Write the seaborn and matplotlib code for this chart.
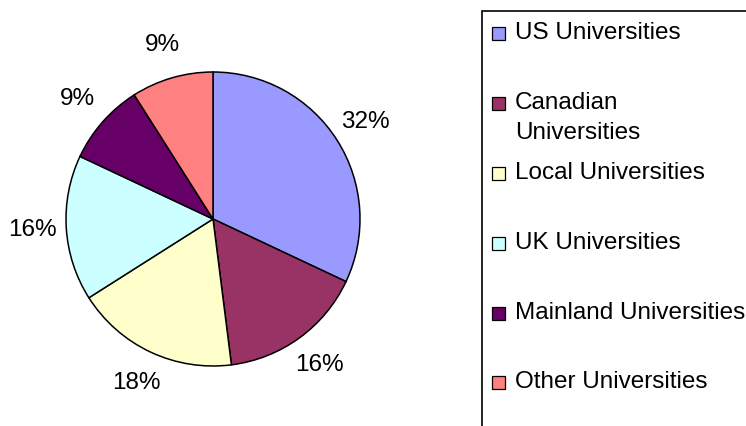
import matplotlib.pyplot as plt
import seaborn as sns
from matplotlib.patches import Rectangle

# data
categories = [
    "US Universities",
    "Canadian\nUniversities",
    "Local Universities",
    "UK Universities",
    "Mainland Universities",
    "Other Universities",
]
shares = [32, 16, 18, 16, 9, 9]
colors = ["#9999FF", "#993366", "#FFFFCC", "#CCFFFF", "#660066", "#FF8080"]

sns.set_theme(style="white")
plt.rcParams["font.family"] = ["Liberation Sans", "DejaVu Sans"]

W, H = 746, 426
fig = plt.figure(figsize=(W / 100, H / 100), dpi=100)

# pie axes: center (213, 219) px, radius 147 px, limits +-1.4
r_px = 147
cx, cy = 213, 219
side = 2.8 * r_px
ax = fig.add_axes([(cx - side / 2) / W, (H - cy - side / 2) / H, side / W, side / H])
palette = sns.color_palette(colors)
ax.pie(
    shares,
    colors=palette,
    startangle=90,
    counterclock=False,
    autopct="%.0f%%",
    pctdistance=1.23,
    wedgeprops=dict(edgecolor="black", linewidth=1.1),
    textprops=dict(fontsize=17.5, color="black"),
)
ax.set_xlim(-1.4, 1.4)
ax.set_ylim(-1.4, 1.4)
ax.set_aspect("equal")
ax.axis("off")

# legend box drawn by hand so rows follow the reference spacing
fig.patches.append(Rectangle((482 / W, -0.2), 0.6, (H - 11) / H + 0.2,
                             transform=fig.transFigure, fill=False,
                             edgecolor="black", linewidth=1.2))
row_y = [33, 103, 173, 243, 313, 382]
for label, col, y in zip(categories, palette, row_y):
    fig.patches.append(Rectangle((492 / W, (H - y - 6.5) / H), 13 / W, 13 / H,
                                 transform=fig.transFigure, facecolor=col,
                                 edgecolor="black", linewidth=0.9))
    for k, line in enumerate(label.split("\n")):
        fig.text(515 / W, (H - y - 30 * k) / H, line, fontsize=17.5,
                 va="center", ha="left", color="black")

fig.savefig("out.png", dpi=100)
